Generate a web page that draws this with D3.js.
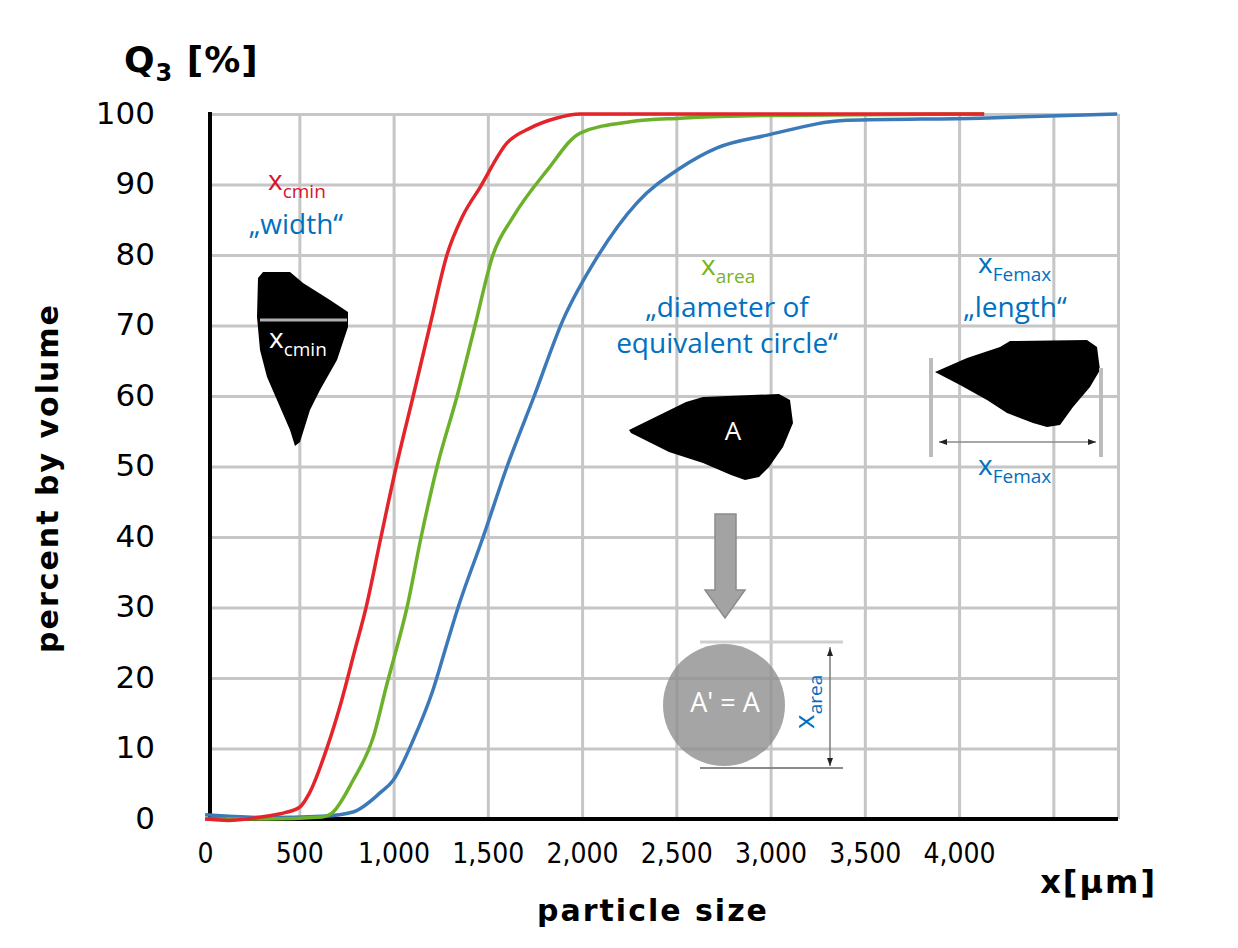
<!DOCTYPE html>
<html>
<head>
<meta charset="utf-8">
<title>Q3 particle size distribution</title>
<style>
	body { margin: 0; background: #fff; }
	.axis text { font-family: "DejaVu Sans", Verdana, sans-serif; fill: #000; }
	.grid line { stroke: #c6c6c6; stroke-width: 3; }
	.grid path { display: none; }
	.title { font-family: "DejaVu Sans", Verdana, sans-serif; font-weight: bold; fill: #000; }
	.note { font-family: "Open Sans", "Noto Sans", sans-serif; }
</style>
<script src="https://d3js.org/d3.v7.min.js"></script>
</head>
<body>
<svg id="chart"></svg>
<script>
// cumulative volume distribution Q3 (%) vs particle size (µm)
var sizeCmin = [0, 126, 225, 324, 423, 503, 552, 648, 721, 795, 854, 933, 1014, 1104, 1193, 1283, 1366, 1459, 1602, 1724, 1862, 1990, 4133];
var q3Cmin   = [0, -0.2, 0, 0.4, 0.9, 1.7, 3.6, 10.2, 16.5, 24, 30, 40, 50, 60, 70, 80, 85.5, 89.6, 95.9, 98, 99.4, 100, 100];

var sizeArea = [0, 324, 622, 671, 785, 892, 966, 1014, 1071, 1146, 1231, 1337, 1432, 1527, 1634, 1814, 1990, 2255, 2519, 3003, 4133];
var q3Area   = [0, 0, 0.3, 0.8, 5.5, 11.6, 19.3, 24, 30, 40, 50, 60, 70, 80, 85.4, 92, 97.3, 98.9, 99.4, 99.8, 100];

var sizeFemax = [0, 126, 324, 622, 785, 928, 998, 1104, 1209, 1289, 1342, 1475, 1602, 1746, 1899, 2080, 2291, 2519, 2716, 2982, 3405, 4111, 4838];
var q3Femax   = [0.6, 0.4, 0.2, 0.4, 1, 3.7, 5.5, 11.2, 18.3, 25.4, 30, 40, 50, 60, 70.8, 79.7, 87.4, 92.3, 95.2, 97, 99.1, 99.4, 100];

var xTicks = [0, 500, 1000, 1500, 2000, 2500, 3000, 3500, 4000];
var xGrid = [500, 1000, 1500, 2000, 2500, 3000, 3500, 4000, 4500];
var yTicks = [0, 10, 20, 30, 40, 50, 60, 70, 80, 90, 100];

var margin = {top: 114, left: 210}
	, width = 908
	, height = 705;

var svg = d3.select("#chart").attr("width", 1238).attr("height", 948);

var xMin = 26, xMax = 4843;
var x = d3.scaleLinear().domain([xMin, xMax]).range([0, width]);
var y = d3.scaleLinear().domain([0, 100]).range([height, 0]);

var main = svg.append("g")
	.attr("transform", "translate(" + margin.left + "," + margin.top + ")");

// grid
main.append("g")
	.attr("class", "grid")
	.call(d3.axisBottom(x).tickValues(xGrid.concat([xMax])).tickSize(height).tickFormat(""));
main.append("g")
	.attr("class", "grid")
	.call(d3.axisLeft(y).tickValues(yTicks.slice(1)).tickSize(-width).tickFormat(""));

// axis lines
main.append("line").attr("x1", 0).attr("x2", 0).attr("y1", y(100) - 2).attr("y2", y(0) + 2)
	.attr("stroke", "#000").attr("stroke-width", 4);
main.append("line").attr("x1", 0).attr("x2", width).attr("y1", y(0)).attr("y2", y(0))
	.attr("stroke", "#000").attr("stroke-width", 4);

// tick labels
var xAxis = main.append("g")
	.attr("class", "axis")
	.attr("transform", "translate(0," + height + ")")
	.call(d3.axisBottom(x).tickValues(xTicks).tickSize(0).tickPadding(24).tickFormat(d3.format(",")));
xAxis.select(".domain").remove();
xAxis.selectAll("text").attr("font-size", 28).style("font-stretch", "condensed");

var yAxis = main.append("g")
	.attr("class", "axis")
	.call(d3.axisLeft(y).tickValues(yTicks).tickSize(0).tickPadding(55));
yAxis.select(".domain").remove();
yAxis.selectAll("text").attr("font-size", 31).attr("dy", "0.3em");

// curves
var line = d3.line()
	.x(function (d) { return x(d[0]); })
	.y(function (d) { return y(d[1]); })
	.curve(d3.curveMonotoneX);

var series = [
	{sizes: sizeFemax, q3: q3Femax, color: "#3c79b8"},
	{sizes: sizeArea, q3: q3Area, color: "#6cb12a"},
	{sizes: sizeCmin, q3: q3Cmin, color: "#e3242b"}
];
series.forEach(function (s) {
	main.append("path")
		.datum(d3.zip(s.sizes, s.q3))
		.attr("fill", "none")
		.attr("stroke", s.color)
		.attr("stroke-width", 3.5)
		.attr("stroke-linejoin", "round")
		.attr("d", line);
});

// axis titles
svg.append("text").attr("class", "title").attr("x", 124).attr("y", 72).attr("font-size", 36).attr("letter-spacing", 1)
	.html('Q<tspan font-size="24" dy="9">3</tspan><tspan dy="-9"> [%]</tspan>');
svg.append("text").attr("class", "title")
	.attr("transform", "translate(58,478) rotate(-90)")
	.attr("text-anchor", "middle").attr("font-size", 30).attr("letter-spacing", 2)
	.text("percent by volume");
svg.append("text").attr("class", "title").attr("x", 653).attr("y", 921)
	.attr("text-anchor", "middle").attr("font-size", 30).attr("letter-spacing", 2)
	.text("particle size");
svg.append("text").attr("class", "title").attr("x", 1157).attr("y", 893)
	.attr("text-anchor", "end").attr("font-size", 32).attr("letter-spacing", 2)
	.text("x[µm]");

// illustrations
var blue = "#0070c0", red = "#d9132d", green = "#78b41e";
var poly = d3.line().curve(d3.curveLinearClosed);

function sub(g, px, py, main_, small, color, size, ssize) {
	g.append("text").attr("class", "note").attr("x", px).attr("y", py).attr("fill", color).attr("font-size", size)
		.html(main_ + '<tspan font-size="' + ssize + '" dy="' + Math.round(size * 0.3) + '">' + small + '</tspan>');
}

var ill = svg.append("g");

// x_cmin
sub(ill, 268, 190, "x", "cmin", red, 28, 19);
ill.append("text").attr("class", "note").attr("x", 296).attr("y", 234).attr("text-anchor", "middle")
	.attr("fill", blue).attr("font-size", 28).text("\u201Ewidth\u201C");
ill.append("path").attr("fill", "#000").attr("d", poly([[258,278],[263,272],[290,272],[303,283],[330,300],[348,312],[348,327],[337,360],[320,390],[310,410],[300,442],[295,446],[290,430],[277,400],[267,377],[260,350],[257,317]]));
ill.append("line").attr("x1", 260).attr("x2", 347).attr("y1", 320).attr("y2", 320).attr("stroke", "#b0b0b0").attr("stroke-width", 3);
sub(ill, 269, 348, "x", "cmin", "#fff", 28, 19);

// x_area
sub(ill, 701, 275, "x", "area", green, 28, 19);
ill.append("text").attr("class", "note").attr("x", 727).attr("y", 317).attr("text-anchor", "middle")
	.attr("fill", blue).attr("font-size", 28).text("\u201Ediameter of");
ill.append("text").attr("class", "note").attr("x", 727).attr("y", 353).attr("text-anchor", "middle")
	.attr("fill", blue).attr("font-size", 28).text("equivalent circle\u201C");
ill.append("path").attr("fill", "#000").attr("d", poly([[629,430],[686,402],[703,397],[779,394],[790,400],[793,423],[783,447],[769,467],[759,477],[745,480],[731,475],[703,463],[669,452],[631,433]]));
ill.append("text").attr("class", "note").attr("x", 733).attr("y", 440).attr("text-anchor", "middle")
	.attr("fill", "#fff").attr("font-size", 26).text("A");
ill.append("path").attr("fill", "#a3a3a3").attr("stroke", "#8c8c8c").attr("stroke-width", 1.5)
	.attr("d", poly([[715,514],[736,514],[736,590],[745,590],[725,618],[705,590],[715,590]]));
ill.append("circle").attr("cx", 724).attr("cy", 705).attr("r", 61).attr("fill", "#8f8f8f").attr("opacity", 0.8);
ill.append("text").attr("class", "note").attr("x", 725).attr("y", 712).attr("text-anchor", "middle")
	.attr("fill", "#fff").attr("font-size", 27).text("A' = A");
ill.append("line").attr("x1", 700).attr("x2", 843).attr("y1", 642).attr("y2", 642).attr("stroke", "#cfcfcf").attr("stroke-width", 3);
ill.append("line").attr("x1", 700).attr("x2", 843).attr("y1", 768).attr("y2", 768).attr("stroke", "#8a8a8a").attr("stroke-width", 2);
ill.append("line").attr("x1", 830).attr("x2", 830).attr("y1", 647).attr("y2", 766).attr("stroke", "#7a7a7a").attr("stroke-width", 1.5);
ill.append("path").attr("fill", "#222").attr("d", poly([[830,648],[827,656],[833,656]]));
ill.append("path").attr("fill", "#222").attr("d", poly([[830,766],[827,758],[833,758]]));
var rot = ill.append("g").attr("transform", "translate(814,729) rotate(-90)");
sub(rot, 0, 0, "x", "area", blue, 28, 19);

// x_Femax
sub(ill, 978, 273, "x", "Femax", blue, 28, 19);
ill.append("text").attr("class", "note").attr("x", 1015).attr("y", 317).attr("text-anchor", "middle")
	.attr("fill", blue).attr("font-size", 28).text("\u201Elength\u201C");
ill.append("path").attr("fill", "#000").attr("d", poly([[935,372],[967,358],[1000,347],[1010,341],[1087,340],[1097,347],[1100,370],[1090,387],[1073,407],[1060,425],[1047,427],[1033,423],[1007,413],[987,400],[960,385]]));
ill.append("line").attr("x1", 931).attr("x2", 931).attr("y1", 358).attr("y2", 457).attr("stroke", "#bdbdbd").attr("stroke-width", 4);
ill.append("line").attr("x1", 1101).attr("x2", 1101).attr("y1", 368).attr("y2", 457).attr("stroke", "#bdbdbd").attr("stroke-width", 4);
ill.append("line").attr("x1", 939).attr("x2", 1096).attr("y1", 442).attr("y2", 442).attr("stroke", "#8a8a8a").attr("stroke-width", 1.5);
ill.append("path").attr("fill", "#222").attr("d", poly([[939,442],[947,439],[947,445]]));
ill.append("path").attr("fill", "#222").attr("d", poly([[1096,442],[1088,439],[1088,445]]));
sub(ill, 978, 475, "x", "Femax", blue, 28, 19);
</script>
</body>
</html>
